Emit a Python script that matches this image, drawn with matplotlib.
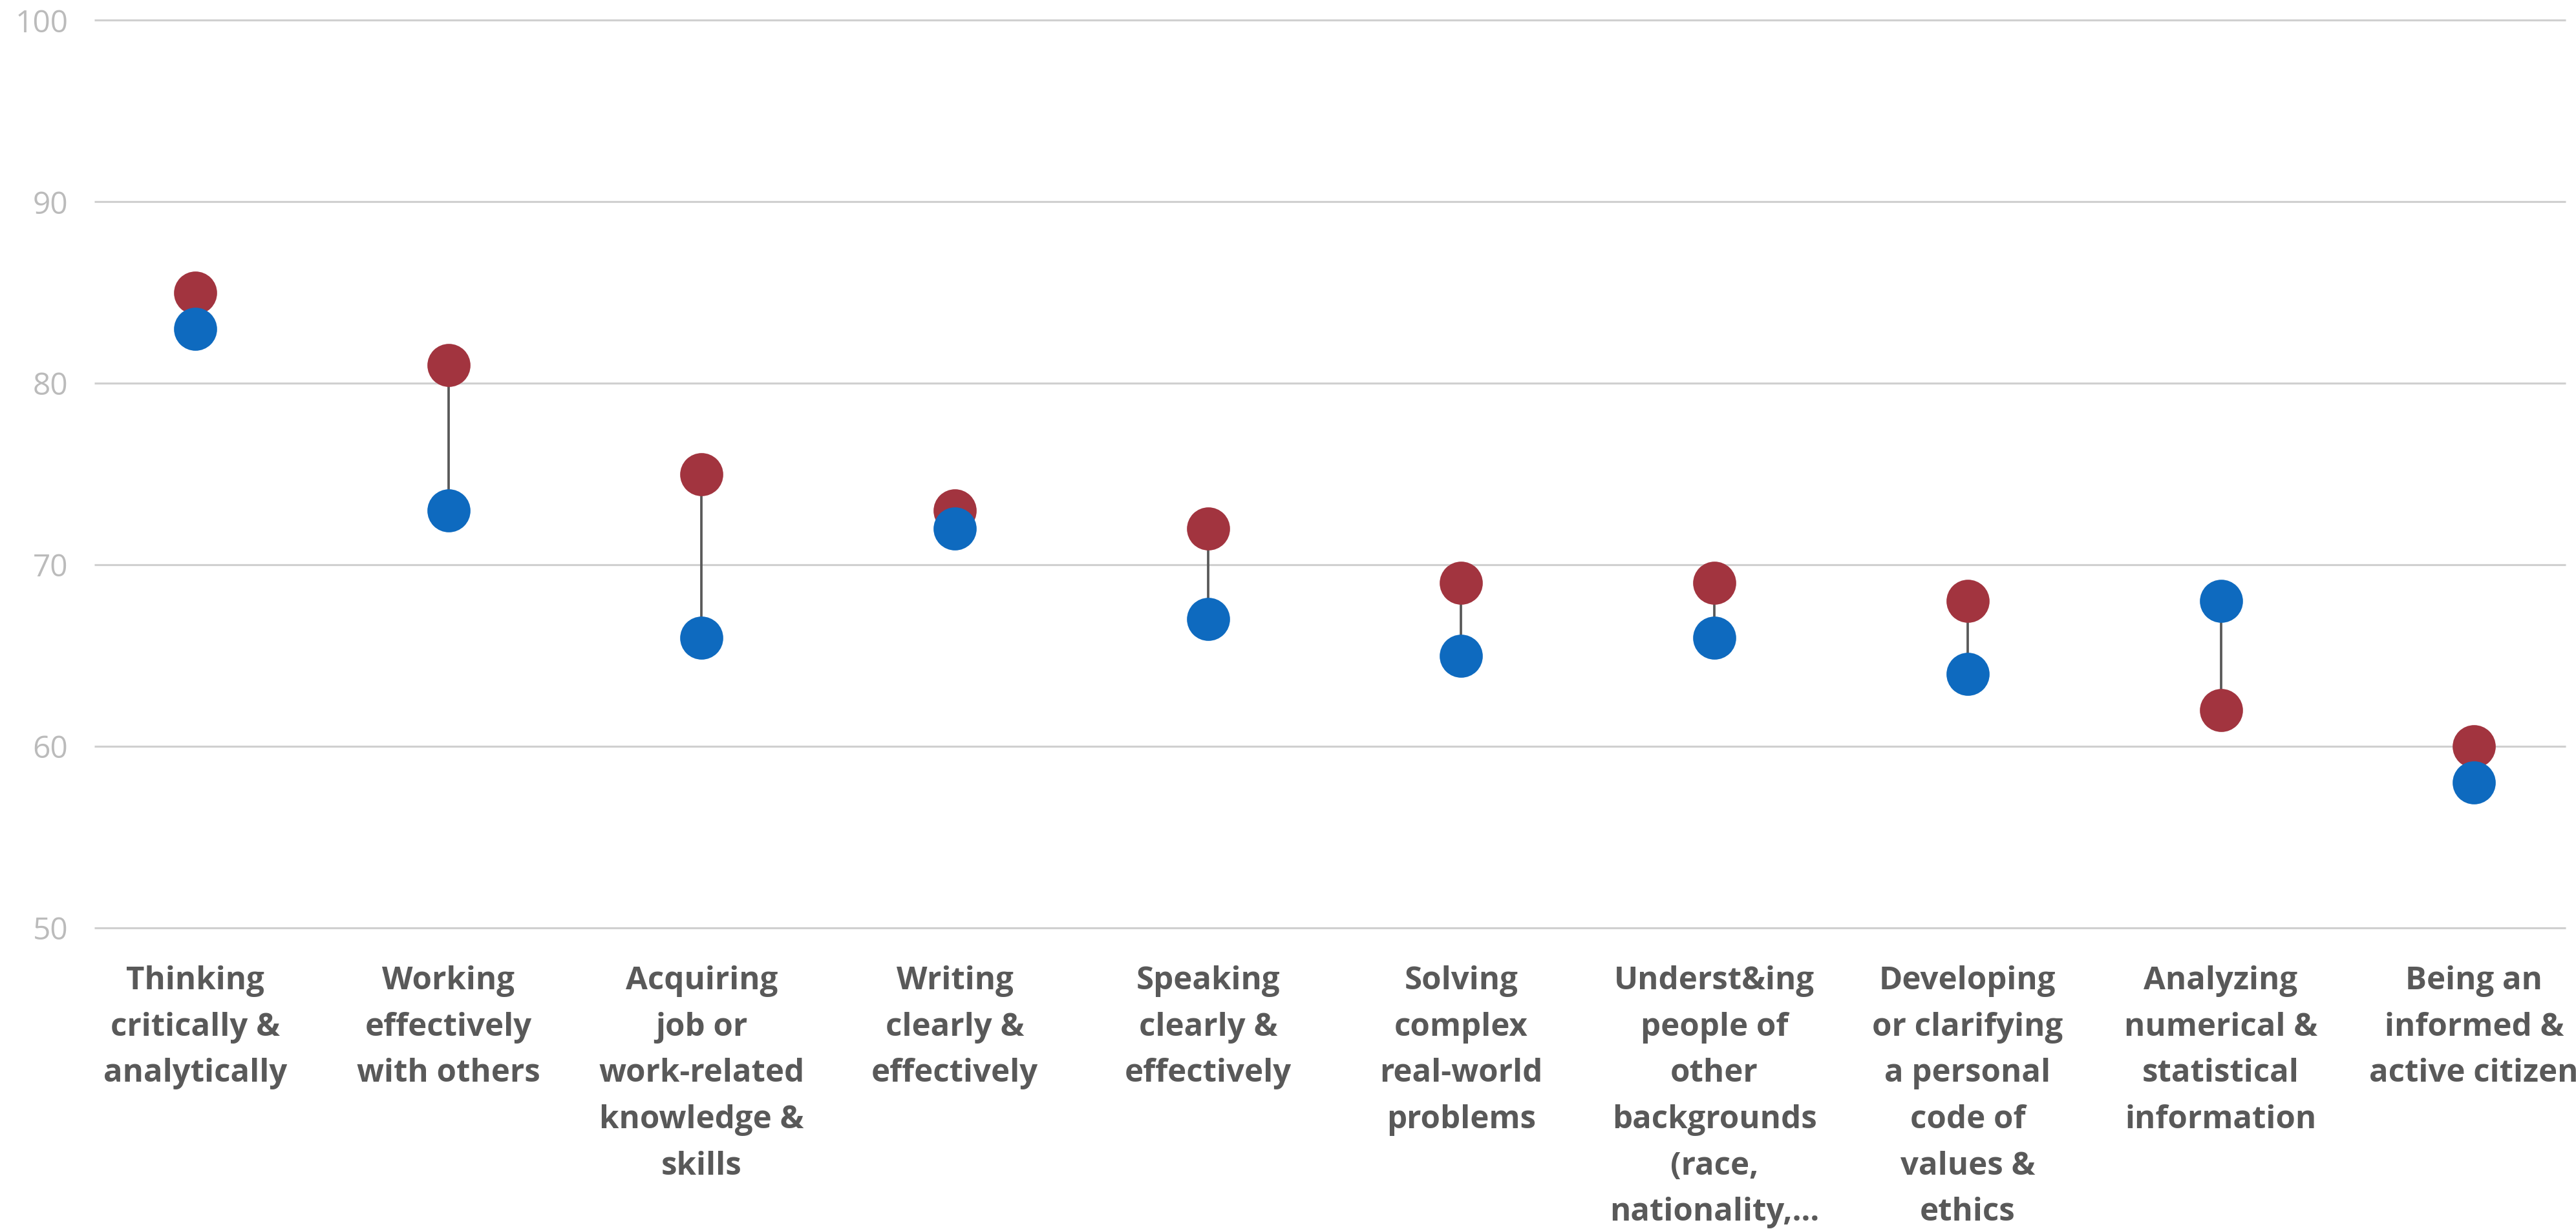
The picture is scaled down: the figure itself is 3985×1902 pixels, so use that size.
import numpy as np
from matplotlib import pyplot as plt

# categories (line breaks as in the original chart)
categories = ["Thinking\ncritically &\nanalytically",
              "Working\neffectively\nwith others",
              "Acquiring\njob or\nwork-related\nknowledge &\nskills",
              "Writing\nclearly &\neffectively",
              "Speaking\nclearly &\neffectively",
              "Solving\ncomplex\nreal-world\nproblems",
              "Underst&ing\npeople of\nother\nbackgrounds\n(race,\nnationality,...",
              "Developing\nor clarifying\na personal\ncode of\nvalues &\nethics",
              "Analyzing\nnumerical &\nstatistical\ninformation",
              "Being an\ninformed &\nactive citizen"]
red_values = [85, 81, 75, 73, 72, 69, 69, 68, 62, 60]
blue_values = [83, 73, 66, 72, 67, 65, 66, 64, 68, 58]
y_ticks = [50, 60, 70, 80, 90, 100]

red = '#A2343F'
blue = '#0E6ABF'

plt.rcParams['font.family'] = ['Open Sans', 'DejaVu Sans']

W, H, dpi = 3985, 1902, 300
fig = plt.figure(figsize=(W / dpi, H / dpi), dpi=dpi)
ax = fig.add_axes([146 / W, 1 - 1436 / H, (3969 - 146) / W, (1436 - 31.4) / H])

x = np.arange(len(categories))

# gridlines
ax.hlines(y_ticks, -0.398, 9.362, color='#D0D0D0', linewidth=0.75, zorder=0, clip_on=False)

# connectors
ax.vlines(x, red_values, blue_values, color='#595959', linewidth=0.9, zorder=1)

# dots
ax.plot(x, red_values, 'o', color=red, markersize=16, markeredgewidth=0, zorder=2, clip_on=False)
ax.plot(x, blue_values, 'o', color=blue, markersize=16, markeredgewidth=0, zorder=3, clip_on=False)

ax.set_xlim(-0.398, 9.362)
ax.set_ylim(50, 100)
ax.set_yticks(y_ticks)
ax.set_xticks(x)
ax.set_xticklabels(categories, fontsize=11.8, fontweight='bold', color='#595959', linespacing=1.61)
ax.tick_params(axis='y', length=0, pad=9.8, labelsize=11.5, labelcolor='#BBBBBB')
ax.tick_params(axis='x', length=0, pad=14)

for s in ax.spines.values():
    s.set_visible(False)

plt.savefig('out.png', dpi=dpi)
